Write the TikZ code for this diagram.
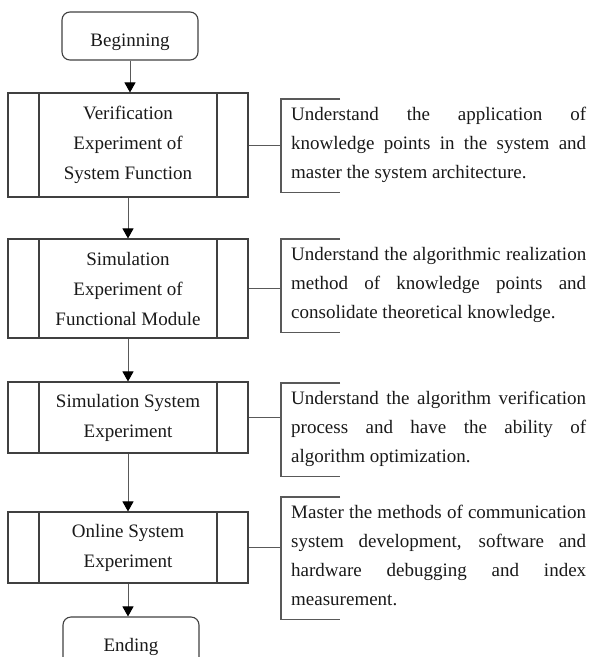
\documentclass[tikz,border=0pt]{standalone}
\usepackage{fontspec}
\setmainfont{Liberation Serif}
\usetikzlibrary{arrows.meta}

\begin{document}
\begin{tikzpicture}[x=1pt,y=-1pt,
  every node/.style={font=\fontsize{19}{30}\selectfont,text=black!90},
  term/.style={draw=black!75,line width=1.1pt,rounded corners=8pt,minimum width=136pt,minimum height=48pt,inner sep=0pt,
    text height=20pt,text depth=0pt},
  proc/.style={draw=black!75,line width=1.1pt,minimum width=240pt,inner sep=0pt,align=center,
    path picture={\draw[black!75,line width=1.1pt]
      ([xshift=31pt]path picture bounding box.north west)--([xshift=31pt]path picture bounding box.south west)
      ([xshift=-31pt]path picture bounding box.north east)--([xshift=-31pt]path picture bounding box.south east);}},
  note/.style={anchor=north west,text width=295pt,inner xsep=10pt,inner ysep=0pt,align=justify,
    font=\fontsize{19}{29}\selectfont,
    execute at begin node={\rule{0pt}{21pt}},execute at end node={\rule[-14pt]{0pt}{14pt}}},
  flow/.style={draw=black!65,line width=1pt,-{Triangle[length=10pt,width=11pt,color=black]}},
  link/.style={draw=black!65,line width=1pt},
  brace/.style={draw=black!65,line width=1.1pt}]
\path[use as bounding box] (0,0) rectangle (589,657);

\node[term] (start) at (130,36) {Beginning};
\node[proc,minimum height=104pt] (p1) at (128,145) {Verification\\Experiment of\\System Function};
\node[proc,minimum height=99pt] (p2) at (128,288.5) {Simulation\\Experiment of\\Functional Module};
\node[proc,minimum height=71pt] (p3) at (128,417.5) {Simulation System\\Experiment};
\node[proc,minimum height=71pt] (p4) at (128,547.5) {Online System\\Experiment};
\node[term] (stop) at (131,641) {Ending};

\node[note] (n1) at (281,99) {Understand the application of\linebreak knowledge points in the system and\linebreak master the system architecture.};
\node[note] (n2) at (281,239) {Understand the algorithmic realization\linebreak method of knowledge points and\linebreak consolidate theoretical knowledge.};
\node[note] (n3) at (281,383) {Understand the algorithm verification\linebreak process and have the ability of\linebreak algorithm optimization.};
\node[note] (n4) at (281,497) {Master the methods of communication\linebreak system development, software and\linebreak hardware debugging and index\linebreak measurement.};

\draw[flow] (start.south) -- (start.south |- p1.north);
\draw[flow] (p1) -- (p2);
\draw[flow] (p2) -- (p3);
\draw[flow] (p3) -- (p4);
\draw[flow] (p4.south) -- (p4.south |- stop.north);

\foreach \p/\n in {p1/n1,p2/n2,p3/n3,p4/n4}{
  \draw[link] (\p.east) -- (\p.east -| \n.west);
  \draw[brace] ([xshift=59pt]\n.north west) -| (\n.south west) -- ++(59pt,0);
}
\end{tikzpicture}
\end{document}
